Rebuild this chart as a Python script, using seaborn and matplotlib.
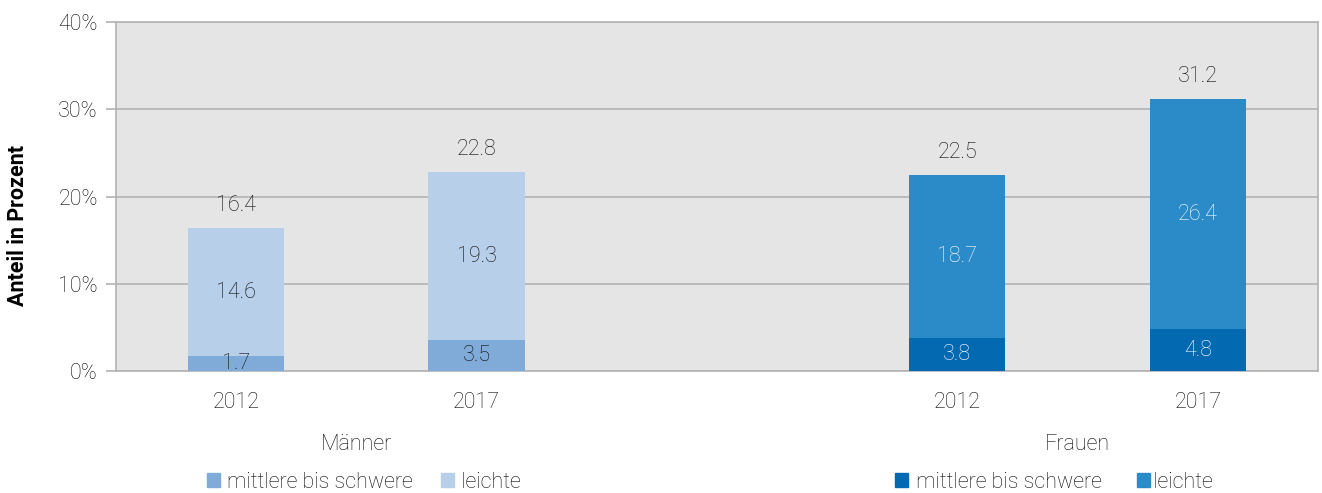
import pandas as pd
import numpy as np
import matplotlib.pyplot as plt
import seaborn as sns
from matplotlib.patches import Patch
import matplotlib.transforms as mtransforms

# data (percent)
slots = ["Männer 2012", "Männer 2017", "Frauen 2012", "Frauen 2017"]
groups = ["Männer", "Männer", "Frauen", "Frauen"]
years = ["2012", "2017", "2012", "2017"]
schwer = [1.7, 3.5, 3.8, 4.8]
leicht = [14.6, 19.3, 18.7, 26.4]
gesamt = [16.4, 22.8, 22.5, 31.2]

order = ["Männer 2012", "Männer 2017", " ", "Frauen 2012", "Frauen 2017"]
tick_labels = ["2012", "2017", "", "2012", "2017"]

dark_cols = {"Männer 2012": "#80abd8", "Männer 2017": "#80abd8",
             "Frauen 2012": "#0369b1", "Frauen 2017": "#0369b1"}
light_cols = {"Männer 2012": "#b8cfea", "Männer 2017": "#b8cfea",
              "Frauen 2012": "#2b8bc8", "Frauen 2017": "#2b8bc8"}

df = pd.DataFrame({"slot": slots, "gruppe": groups, "jahr": years,
                   "schwer": schwer, "leicht": leicht, "gesamt": gesamt})

sns.set_theme(style="white")
plt.rcParams['font.family'] = ['Roboto', 'DejaVu Sans']

fig = plt.figure(figsize=(13.22, 4.93), dpi=100)
ax = fig.add_axes([0.0877, 0.2475, 0.9093, 0.7075])
ax.set_facecolor("#e5e5e5")

grid_c = "#b3b3b3"
text_c = "#0a0a0a"
fs = 15.5

# full stack height (light colour), then the lower dark part on top
sns.barplot(data=df, x="slot", y="gesamt", hue="slot", order=order,
            palette=light_cols, width=0.4, saturation=1, legend=False, ax=ax,
            linewidth=0, zorder=2)
sns.barplot(data=df, x="slot", y="schwer", hue="slot", order=order,
            palette=dark_cols, width=0.4, saturation=1, legend=False, ax=ax,
            linewidth=0, zorder=3)

ax.set_ylim(0, 40)
ax.set_yticks([0, 10, 20, 30, 40])
ax.set_yticklabels([f"{v}%" for v in [0, 10, 20, 30, 40]])
ax.set_xticks(range(len(order)))
ax.set_xticklabels(tick_labels)
ax.yaxis.grid(True, color=grid_c, linewidth=1.2, zorder=1)
ax.set_axisbelow(True)
for s in ax.spines.values():
    s.set_color(grid_c)
    s.set_linewidth(1.2)
ax.tick_params(axis="y", length=7, color=grid_c, width=1.2, labelsize=fs,
               labelcolor=text_c, pad=6, left=True)
ax.tick_params(axis="x", length=0, labelsize=fs, labelcolor=text_c, pad=15)
for lbl in ax.get_xticklabels() + ax.get_yticklabels():
    lbl.set_fontweight("light")
ax.set_xlabel("")
ax.set_ylabel("Anteil in Prozent", fontsize=15.5, fontweight="bold",
              color="#000000", va="center")
ax.yaxis.set_label_coords(-0.0815, 0.418)

# value labels
for _, r in df.iterrows():
    x = order.index(r["slot"])
    inner_c = "white" if r["gruppe"] == "Frauen" else text_c
    ax.text(x, r["gesamt"] + 2.6, f"{r['gesamt']:.1f}", ha="center", va="center",
            fontsize=fs, fontweight="light", color=text_c, zorder=5)
    ax.text(x, (r["schwer"] + r["gesamt"]) / 2, f"{r['leicht']:.1f}", ha="center",
            va="center", fontsize=fs, fontweight="light", color=inner_c, zorder=5)
    ax.text(x, r["schwer"] / 2, f"{r['schwer']:.1f}", ha="center", va="center",
            fontsize=fs, fontweight="light", color=inner_c, zorder=5, clip_on=True)

# group labels under the years
trans = mtransforms.blended_transform_factory(ax.transData, fig.transFigure)
ax.text(0.5, 1 - 445 / 493, "Männer", transform=trans, ha="center", va="center",
        fontsize=fs, fontweight="light", color=text_c)
ax.text(3.5, 1 - 445 / 493, "Frauen", transform=trans, ha="center", va="center",
        fontsize=fs, fontweight="light", color=text_c)

# one legend per group
leg_m = fig.legend(handles=[Patch(color="#80abd8", label="mittlere bis schwere"),
                            Patch(color="#b8cfea", label="leichte")],
                   loc="center", bbox_to_anchor=(364 / 1322, 1 - 482 / 493), ncol=2,
                   frameon=False, fontsize=fs, handlelength=0.6, handleheight=0.6,
                   handletextpad=0.35, columnspacing=1.3, borderpad=0)
leg_f = fig.legend(handles=[Patch(color="#0369b1", label=" mittlere bis schwere"),
                            Patch(color="#2b8bc8", label="leichte")],
                   loc="center", bbox_to_anchor=(1054 / 1322, 1 - 482 / 493), ncol=2,
                   frameon=False, fontsize=fs, handlelength=0.6, handleheight=0.6,
                   handletextpad=0.15, columnspacing=1.6, borderpad=0)
for leg in (leg_m, leg_f):
    for t in leg.get_texts():
        t.set_color(text_c)
        t.set_fontweight("light")

fig.savefig("out.png", dpi=100)
